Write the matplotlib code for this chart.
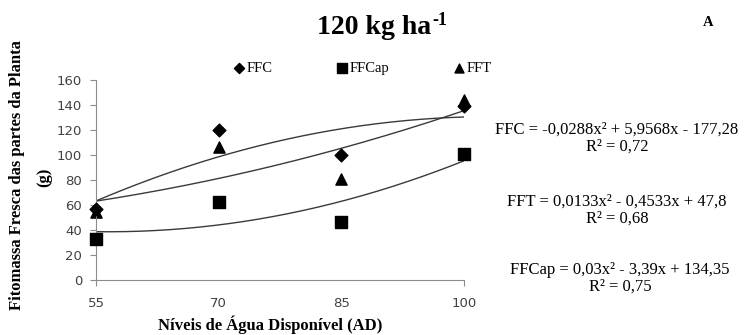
import matplotlib.pyplot as plt
import numpy as np

# niveis de agua disponivel (AD)
niveis = [55, 70, 85, 100]

ffc = [57, 120, 100, 139]
ffcap = [33, 62, 46, 101]
fft = [54, 106, 81, 144]

# coeficientes das equacoes (a, b, c) -> a*x^2 + b*x + c
coef_ffc = [-0.0288, 5.9568, -177.28]
coef_fft = [0.0133, -0.4533, 47.8]
coef_ffcap = [0.03, -3.39, 134.35]

eq_ffc = "FFC = -0,0288x² + 5,9568x - 177,28\nR² = 0,72"
eq_fft = "FFT = 0,0133x² - 0,4533x + 47,8\nR² = 0,68"
eq_ffcap = "FFCap = 0,03x² - 3,39x + 134,35\nR² = 0,75"

plt.rcParams['font.family'] = 'Liberation Serif'

fig = plt.figure(figsize=(7.48, 3.35), dpi=100)
ax = fig.add_axes([0.1283, 0.1642, 0.492, 0.597])

xs = np.linspace(55, 100, 200)
for c in [coef_ffc, coef_fft, coef_ffcap]:
    ax.plot(xs, np.polyval(c, xs), color='#3a3a3a', lw=1.0, zorder=1)

ax.scatter(niveis, ffc, marker='D', s=42, color='black', label='FFC', zorder=3, clip_on=False)
ax.scatter(niveis, ffcap, marker='s', s=75, color='black', label='FFCap', zorder=3, clip_on=False)
ax.scatter(niveis, fft, marker='^', s=65, color='black', label='FFT', zorder=2, clip_on=False)

ax.set_xlim(55, 100)
ax.set_ylim(0, 160)
ax.set_xticks(niveis)
ax.set_yticks(range(0, 161, 20))
for s in ['top', 'right']:
    ax.spines[s].set_visible(False)
for s in ['left', 'bottom']:
    ax.spines[s].set_color('#8c8c8c')
ax.tick_params(colors='#8c8c8c', length=4, labelcolor='#404040', labelsize=9.5)
ax.tick_params(axis='y', pad=6)
ax.tick_params(axis='x', pad=8)
for lbl in ax.get_xticklabels() + ax.get_yticklabels():
    lbl.set_family('DejaVu Sans')
for t in ax.xaxis.get_major_ticks()[1:3]:
    t.tick1line.set_visible(False)

ax.legend(loc='center left', bbox_to_anchor=(233 / 748, 1 - 68 / 335),
          bbox_transform=fig.transFigure, ncol=3, frameon=False,
          fontsize=10.5, handletextpad=0.1, columnspacing=4.4, markerscale=0.8,
          handlelength=0.8, borderpad=0, borderaxespad=0)

t = fig.text(0.5, 0.918, "120 kg ha", ha='center', va='center',
             fontsize=20, fontweight='bold')
fig.canvas.draw()
bb = t.get_window_extent()
fig.text(bb.x1 / fig.bbox.width + 0.002, bb.y1 / fig.bbox.height + 0.008, "-1",
         ha='left', va='top', fontsize=13, fontweight='bold')
fig.text(0.947, 0.934, "A", ha='center', va='center', fontsize=10.5, fontweight='bold')

fig.text(0.361, 0.03, "Níveis de Água Disponível (AD)", ha='center', va='center',
         fontsize=12, fontweight='bold')
fig.text(0.023, 0.478, "Fitomassa Fresca das partes da Planta", rotation=90,
         ha='center', va='center', fontsize=12, fontweight='bold')
fig.text(0.059, 0.47, "(g)", rotation=90, ha='center', va='center',
         fontsize=12, fontweight='bold')

fig.text(0.825, 0.588, eq_ffc, ha='center', va='center', fontsize=12,
         multialignment='center', linespacing=1.05)
fig.text(0.825, 0.372, eq_fft, ha='center', va='center', fontsize=12,
         multialignment='center', linespacing=1.05)
fig.text(0.829, 0.168, eq_ffcap, ha='center', va='center', fontsize=12,
         multialignment='center', linespacing=1.05)

fig.savefig('out.png', dpi=100)
